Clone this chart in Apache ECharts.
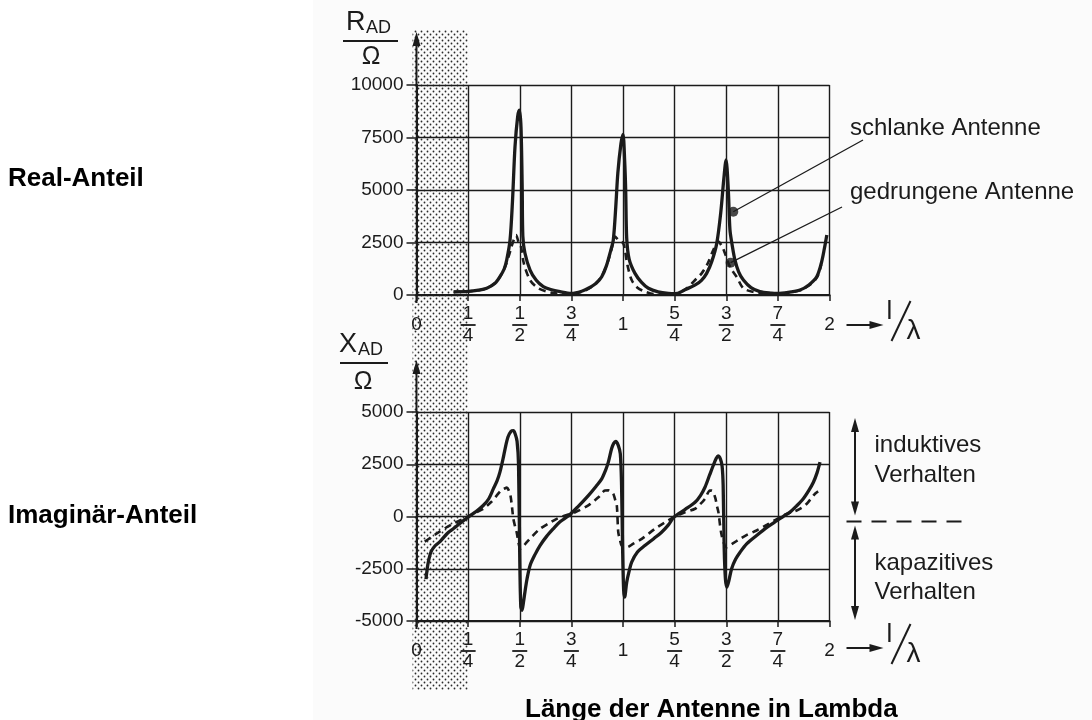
<!DOCTYPE html>
<html>
<head>
<meta charset="utf-8">
<title>Fußpunktimpedanz einer Antenne</title>
<script src="https://cdn.jsdelivr.net/npm/echarts@6/dist/echarts.min.js"></script>
<style>
  html, body { margin: 0; padding: 0; background: #fff; }
  #chart { width: 1092px; height: 720px; }
</style>
</head>
<body>
<div id="chart"></div>
<script>
// Teilung der l/λ-Achse in Vierteln
const xTickLabels = ['0', '1/4', '1/2', '3/4', '1', '5/4', '3/2', '7/4', '2'];

// Real-Anteil R_AD / Ohm, schlanke Antenne (durchgezogen)
const rSchlankX = [0.18, 0.25, 0.30, 0.34, 0.38, 0.404, 0.425, 0.437, 0.453, 0.465, 0.477, 0.49, 0.498,
  0.506, 0.512, 0.515, 0.525, 0.55, 0.58, 0.614, 0.65, 0.695, 0.75, 0.8, 0.832, 0.87, 0.897, 0.92,
  0.94, 0.953, 0.965, 0.975, 0.99, 1.0, 1.008, 1.013, 1.018, 1.03, 1.058, 1.09, 1.123, 1.17, 1.22,
  1.26, 1.3, 1.35, 1.38, 1.405, 1.43, 1.454, 1.473, 1.488, 1.499, 1.51, 1.518, 1.53, 1.542, 1.56,
  1.583, 1.62, 1.663, 1.72, 1.747, 1.8, 1.857, 1.9, 1.938, 1.96, 1.975, 1.987];
const rSchlankY = [150, 170, 230, 320, 560, 870, 1250, 1670, 2620, 4500, 7060, 8500, 8800,
  8000, 5000, 2800, 2000, 1190, 700, 400, 260, 160, 80, 180, 320, 560, 870, 1400,
  2100, 2620, 4200, 5800, 7200, 7650, 6400, 5000, 2700, 1700, 1030, 600, 320, 150, 80,
  70, 250, 480, 700, 1030, 1600, 2460, 3890, 5500, 6430, 5000, 3100, 2300, 1670, 1100,
  710, 350, 160, 90, 80, 130, 240, 480, 870, 1500, 2200, 2860];

// Real-Anteil, gedrungene Antenne (gestrichelt)
const rGedrungenX = [0.18, 0.25, 0.30, 0.34, 0.38, 0.404, 0.425, 0.445, 0.46, 0.47, 0.482, 0.495,
  0.505, 0.52, 0.55, 0.59, 0.65, 0.7, 0.75, 0.8, 0.85, 0.89, 0.92, 0.945, 0.961, 0.98, 1.001, 1.01,
  1.02, 1.042, 1.07, 1.106, 1.15, 1.2, 1.25, 1.3, 1.357, 1.381, 1.41, 1.44, 1.462, 1.48, 1.494,
  1.52, 1.55, 1.583, 1.63, 1.7, 1.75, 1.8, 1.857, 1.9, 1.94, 1.96];
const rGedrungenY = [150, 170, 230, 320, 560, 870, 1250, 1800, 2300, 2600, 2850, 2500,
  2350, 1500, 710, 320, 120, 60, 60, 150, 400, 800, 1400, 2200, 2780, 2600, 2460, 2100,
  1500, 710, 350, 160, 40, 30, 60, 250, 790, 1030, 1500, 2200, 2540, 2300, 1980,
  1300, 870, 320, 150, 60, 60, 110, 220, 450, 850, 1450];

// Imaginär-Anteil X_AD / Ohm, schlanke Antenne
const xSchlankX = [0.046, 0.055, 0.07, 0.09, 0.114, 0.15, 0.178, 0.21, 0.25, 0.29, 0.323, 0.35,
  0.372, 0.39, 0.404, 0.42, 0.429, 0.443, 0.458, 0.469, 0.478, 0.487, 0.494, 0.5, 0.505, 0.511,
  0.518, 0.525, 0.535, 0.55, 0.575, 0.598, 0.63, 0.662, 0.695, 0.738, 0.78, 0.832, 0.87, 0.897,
  0.915, 0.929, 0.945, 0.955, 0.965, 0.977, 0.987, 0.993, 0.998, 1.003, 1.008, 1.018, 1.03, 1.042,
  1.07, 1.106, 1.15, 1.187, 1.22, 1.247, 1.3, 1.349, 1.375, 1.397, 1.42, 1.437, 1.45, 1.46, 1.472,
  1.48, 1.485, 1.49, 1.496, 1.503, 1.512, 1.526, 1.545, 1.567, 1.6, 1.647, 1.7, 1.747, 1.78, 1.809,
  1.84, 1.873, 1.9, 1.922, 1.94, 1.954];
const xSchlankY = [-3000, -2300, -1700, -1400, -1200, -800, -590, -330, -30, 250, 525, 850,
  1320, 1700, 2120, 2800, 3240, 3800, 4080, 4110, 3950, 3600, 2500, -2000, -4300, -4490,
  -4100, -3620, -3000, -2340, -1800, -1390, -950, -590, -250, 50, 450, 1000, 1450, 1800,
  2200, 2600, 3250, 3500, 3590, 3400, 3000, 1500, -1500, -3500, -3860, -3140, -2600, -2180,
  -1700, -1390, -1050, -750, -400, -30, 330, 680, 1000, 1400, 2000, 2440, 2750, 2900, 2750,
  2400, 1500, -1500, -3000, -3380, -3100, -2500, -2050, -1710, -1300, -910, -500, -190, 30, 210,
  500, 850, 1250, 1640, 2100, 2600];

// Imaginär-Anteil, gedrungene Antenne
const xGedrungenX = [0.04, 0.07, 0.1, 0.14, 0.18, 0.22, 0.25, 0.29, 0.323, 0.36, 0.388, 0.41,
  0.429, 0.437, 0.447, 0.455, 0.462, 0.469, 0.478, 0.485, 0.495, 0.503, 0.515, 0.534, 0.56, 0.598,
  0.64, 0.679, 0.72, 0.768, 0.832, 0.86, 0.881, 0.913, 0.93, 0.945, 0.953, 0.962, 0.97, 0.977,
  0.985, 0.994, 1.018, 1.05, 1.091, 1.155, 1.2, 1.247, 1.3, 1.349, 1.375, 1.397, 1.421, 1.43,
  1.446, 1.455, 1.462, 1.478, 1.502, 1.53, 1.567, 1.6, 1.647, 1.7, 1.747, 1.8, 1.841, 1.87, 1.89,
  1.91, 1.93, 1.945];
const xGedrungenY = [-1200, -1000, -800, -550, -330, -150, 0, 200, 370, 680, 1000, 1250,
  1350, 1380, 1250, 1000, 500, -110, -500, -750, -1300, -1540, -1450, -1230, -950, -590,
  -330, -110, 50, 200, 530, 750, 920, 1240, 1250, 1150, 1090, 800, 530, -750,
  -1100, -1390, -1470, -1300, -1070, -590, -300, -30, 200, 370, 600, 850, 1240, 1240,
  920, 500, 210, -910, -1470, -1300, -1070, -880, -670, -380, -110, 150, 290, 450, 610,
  850, 1090, 1200];

// Markierungspunkte der Kurvenbeschriftung (Real-Anteil)
const markPoints = [[1.534, 3965], [1.521, 1540]];
const markTexts = ['schlanke Antenne', 'gedrungene Antenne'];

const INK = '#1b1b1b';
const FONT = '"Liberation Sans", Arial, sans-serif';
const GRID_LEFT = 416.5;
const GRID_RIGHT = 262.5;

const zip = (xs, ys) => xs.map((x, i) => [x, ys[i]]);

function fracLabel(v) {
  const s = xTickLabels[Math.round(v * 4)];
  if (s === undefined) return '';
  if (s.indexOf('/') < 0) return '{int|' + s + '}';
  const parts = s.split('/');
  return '{num|' + parts[0] + '}\n{bar| }\n{den|' + parts[1] + '}';
}

const fracRich = {
  num: { fontSize: 19, lineHeight: 18, fontFamily: FONT, color: INK },
  bar: { width: 15, height: 1.8, lineHeight: 4, fontSize: 1, backgroundColor: INK },
  den: { fontSize: 19, lineHeight: 18, fontFamily: FONT, color: INK },
  int: { fontSize: 19, lineHeight: 40, fontFamily: FONT, color: INK }
};

function xAxisOpt(gridIndex) {
  return {
    type: 'value', gridIndex, min: 0, max: 2, interval: 0.25,
    axisLine: { show: true, onZero: false, lineStyle: { color: INK, width: 2 } },
    axisTick: { show: true, length: 6, lineStyle: { color: INK, width: 1.5 } },
    splitLine: { show: true, lineStyle: { color: INK, width: 1.4 } },
    axisLabel: { margin: 10, showMinLabel: true, showMaxLabel: true, formatter: fracLabel, rich: fracRich }
  };
}

function yAxisOpt(gridIndex, min, max) {
  return {
    type: 'value', gridIndex, min, max, interval: 2500,
    axisLine: { show: true, onZero: false, lineStyle: { color: INK, width: 2 } },
    axisTick: { show: true, length: 10, lineStyle: { color: INK, width: 1.5 } },
    splitLine: { show: true, lineStyle: { color: INK, width: 1.4 } },
    axisLabel: { margin: 13, fontSize: 19, fontFamily: FONT, color: INK, formatter: v => String(v) }
  };
}

function curve(gridIndex, data, dashed) {
  return {
    type: 'line', xAxisIndex: gridIndex, yAxisIndex: gridIndex, data,
    showSymbol: false, smooth: 0.3, z: 5,
    lineStyle: dashed ? { color: INK, width: 2.6, type: [7, 5] } : { color: INK, width: 3.3 }
  };
}

const chart = echarts.init(document.getElementById('chart'));

chart.setOption({
  animation: false,
  backgroundColor: '#fff',
  grid: [
    { left: GRID_LEFT, right: GRID_RIGHT, top: 85, height: 210 },
    { left: GRID_LEFT, right: GRID_RIGHT, top: 412, height: 209 }
  ],
  xAxis: [xAxisOpt(0), xAxisOpt(1)],
  yAxis: [yAxisOpt(0, 0, 10000), yAxisOpt(1, -5000, 5000)],
  series: [
    curve(0, zip(rGedrungenX, rGedrungenY), true),
    curve(0, zip(rSchlankX, rSchlankY), false),
    curve(1, zip(xGedrungenX, xGedrungenY), true),
    curve(1, zip(xSchlankX, xSchlankY), false),
    {
      type: 'scatter', xAxisIndex: 0, yAxisIndex: 0, data: markPoints,
      symbol: 'circle', symbolSize: 10, itemStyle: { color: INK }, z: 6, silent: true,
      markLine: {
        silent: true, symbol: ['none', 'none'], label: { show: false },
        lineStyle: { color: INK, width: 1.3, type: 'solid' },
        data: [
          [{ coord: markPoints[0] }, { x: 863, y: 140 }],
          [{ coord: markPoints[1] }, { x: 842, y: 207 }]
        ]
      }
    }
  ]
});

// Dekoration aus den Achsen abgeleitet
const px = (g, x, y) => chart.convertToPixel({ gridIndex: g }, [x, y]);

function dotTile() {
  const c = document.createElement('canvas');
  c.width = 6; c.height = 6;
  const ctx = c.getContext('2d');
  ctx.fillStyle = '#2a2a2a';
  [[1.5, 1.5], [4.5, 4.5]].forEach(p => {
    ctx.beginPath(); ctx.arc(p[0], p[1], 0.9, 0, Math.PI * 2); ctx.fill();
  });
  return c;
}

function text(str, x, y, size, opts) {
  opts = opts || {};
  const align = opts.align || 'left';
  return {
    type: 'text', z: 10, silent: true,
    style: {
      text: str, x, y, fill: opts.color || INK,
      font: (opts.bold ? 'bold ' : '') + size + 'px ' + FONT,
      align, textAlign: align, verticalAlign: 'middle', textVerticalAlign: 'middle'
    }
  };
}

function line(x1, y1, x2, y2, w, dash) {
  return {
    type: 'line', z: 10, silent: true,
    shape: { x1, y1, x2, y2 },
    style: { stroke: INK, lineWidth: w || 2, lineDash: dash || null }
  };
}

function head(tx, ty, dir) {
  const L = 14, W = 4;
  let pts;
  if (dir === 'up') pts = [[tx, ty], [tx - W, ty + L], [tx + W, ty + L]];
  else if (dir === 'down') pts = [[tx, ty], [tx - W, ty - L], [tx + W, ty - L]];
  else pts = [[tx, ty], [tx - L, ty - W], [tx - L, ty + W]];
  return { type: 'polygon', z: 10, silent: true, shape: { points: pts }, style: { fill: INK } };
}

const els = [];

// leicht graues Scan-Papier
els.push({ type: 'rect', z: -3, silent: true, shape: { x: 313, y: 0, width: 779, height: 720 }, style: { fill: '#fbfbfb' } });

// punktierter Bereich 0 .. 1/4
const s0 = px(0, 0, 0)[0] - 4;
const s1 = px(0, 0.25, 0)[0];
els.push({
  type: 'rect', z: -1, silent: true,
  shape: { x: s0, y: 30, width: s1 - s0, height: 660 },
  style: { fill: { image: dotTile(), repeat: 'repeat' } }
});

[[0, 10000, 0, 32], [1, 5000, -5000, 360]].forEach(([g, yMax, yMin, tip]) => {
  const top = px(g, 0, yMax);
  const bot = px(g, 0, yMin);
  const end = px(g, 2, yMin);
  // Achsenverlängerung mit Pfeil
  els.push(line(top[0], top[1], top[0], tip + 6, 2));
  els.push(line(bot[0], bot[1], bot[0], bot[1] + 8, 2));
  els.push(head(top[0], tip, 'up'));
  // 2 --> l/λ
  const x2 = end[0], yA = end[1] + (g === 0 ? 30 : 27);
  els.push(line(x2 + 17, yA, x2 + 44, yA, 2));
  els.push(head(x2 + 54, yA, 'right'));
  els.push(text('l', x2 + 60, yA - 13, 26, { align: 'center' }));
  els.push(line(x2 + 62, yA + 16, x2 + 81, yA - 24, 2));
  els.push(text('λ', x2 + 84, yA + 6, 28, { align: 'center' }));
});

// Achsenbezeichnungen R_AD/Ω und X_AD/Ω
els.push(text('R', 346, 23, 27));
els.push(text('AD', 366, 28, 18));
els.push(line(343, 41, 398, 41, 2));
els.push(text('Ω', 371, 57, 25, { align: 'center' }));
els.push(text('X', 339, 345, 27));
els.push(text('AD', 358, 350, 18));
els.push(line(340, 363, 388, 363, 2));
els.push(text('Ω', 363, 382, 25, { align: 'center' }));

// Kurvenbeschriftung oben
els.push(text(markTexts[0], 850, 128, 24));
els.push(text(markTexts[1], 850, 192, 24));

// induktiv / kapazitiv
const yP = px(1, 2, 5000)[1], y0 = px(1, 2, 0)[1], yN = px(1, 2, -5000)[1];
const xR = px(1, 2, 0)[0];
const xa = xR + 25.5;
els.push(line(xa, yP + 12, xa, y0 - 7, 2));
els.push(head(xa, yP + 6, 'up'));
els.push(head(xa, y0 - 1, 'down'));
els.push(line(xa, y0 + 15, xa, yN - 7, 2));
els.push(head(xa, y0 + 9, 'up'));
els.push(head(xa, yN - 1, 'down'));
els.push(line(xR + 17, y0 + 5, xR + 140, y0 + 5, 2, [15, 10]));
els.push(text('induktives', xR + 45, y0 - 71, 24));
els.push(text('Verhalten', xR + 45, y0 - 41, 24));
els.push(text('kapazitives', xR + 45, y0 + 47, 24));
els.push(text('Verhalten', xR + 45, y0 + 76, 24));

// Beschriftungen links und unten
els.push(text('Real-Anteil', 8, 179, 26, { bold: true, color: '#000' }));
els.push(text('Imaginär-Anteil', 8, 516, 26, { bold: true, color: '#000' }));
els.push(text('Länge der Antenne in Lambda', 525, 710, 26, { bold: true, color: '#000' }));

chart.setOption({ graphic: { elements: els } });
</script>
</body>
</html>
